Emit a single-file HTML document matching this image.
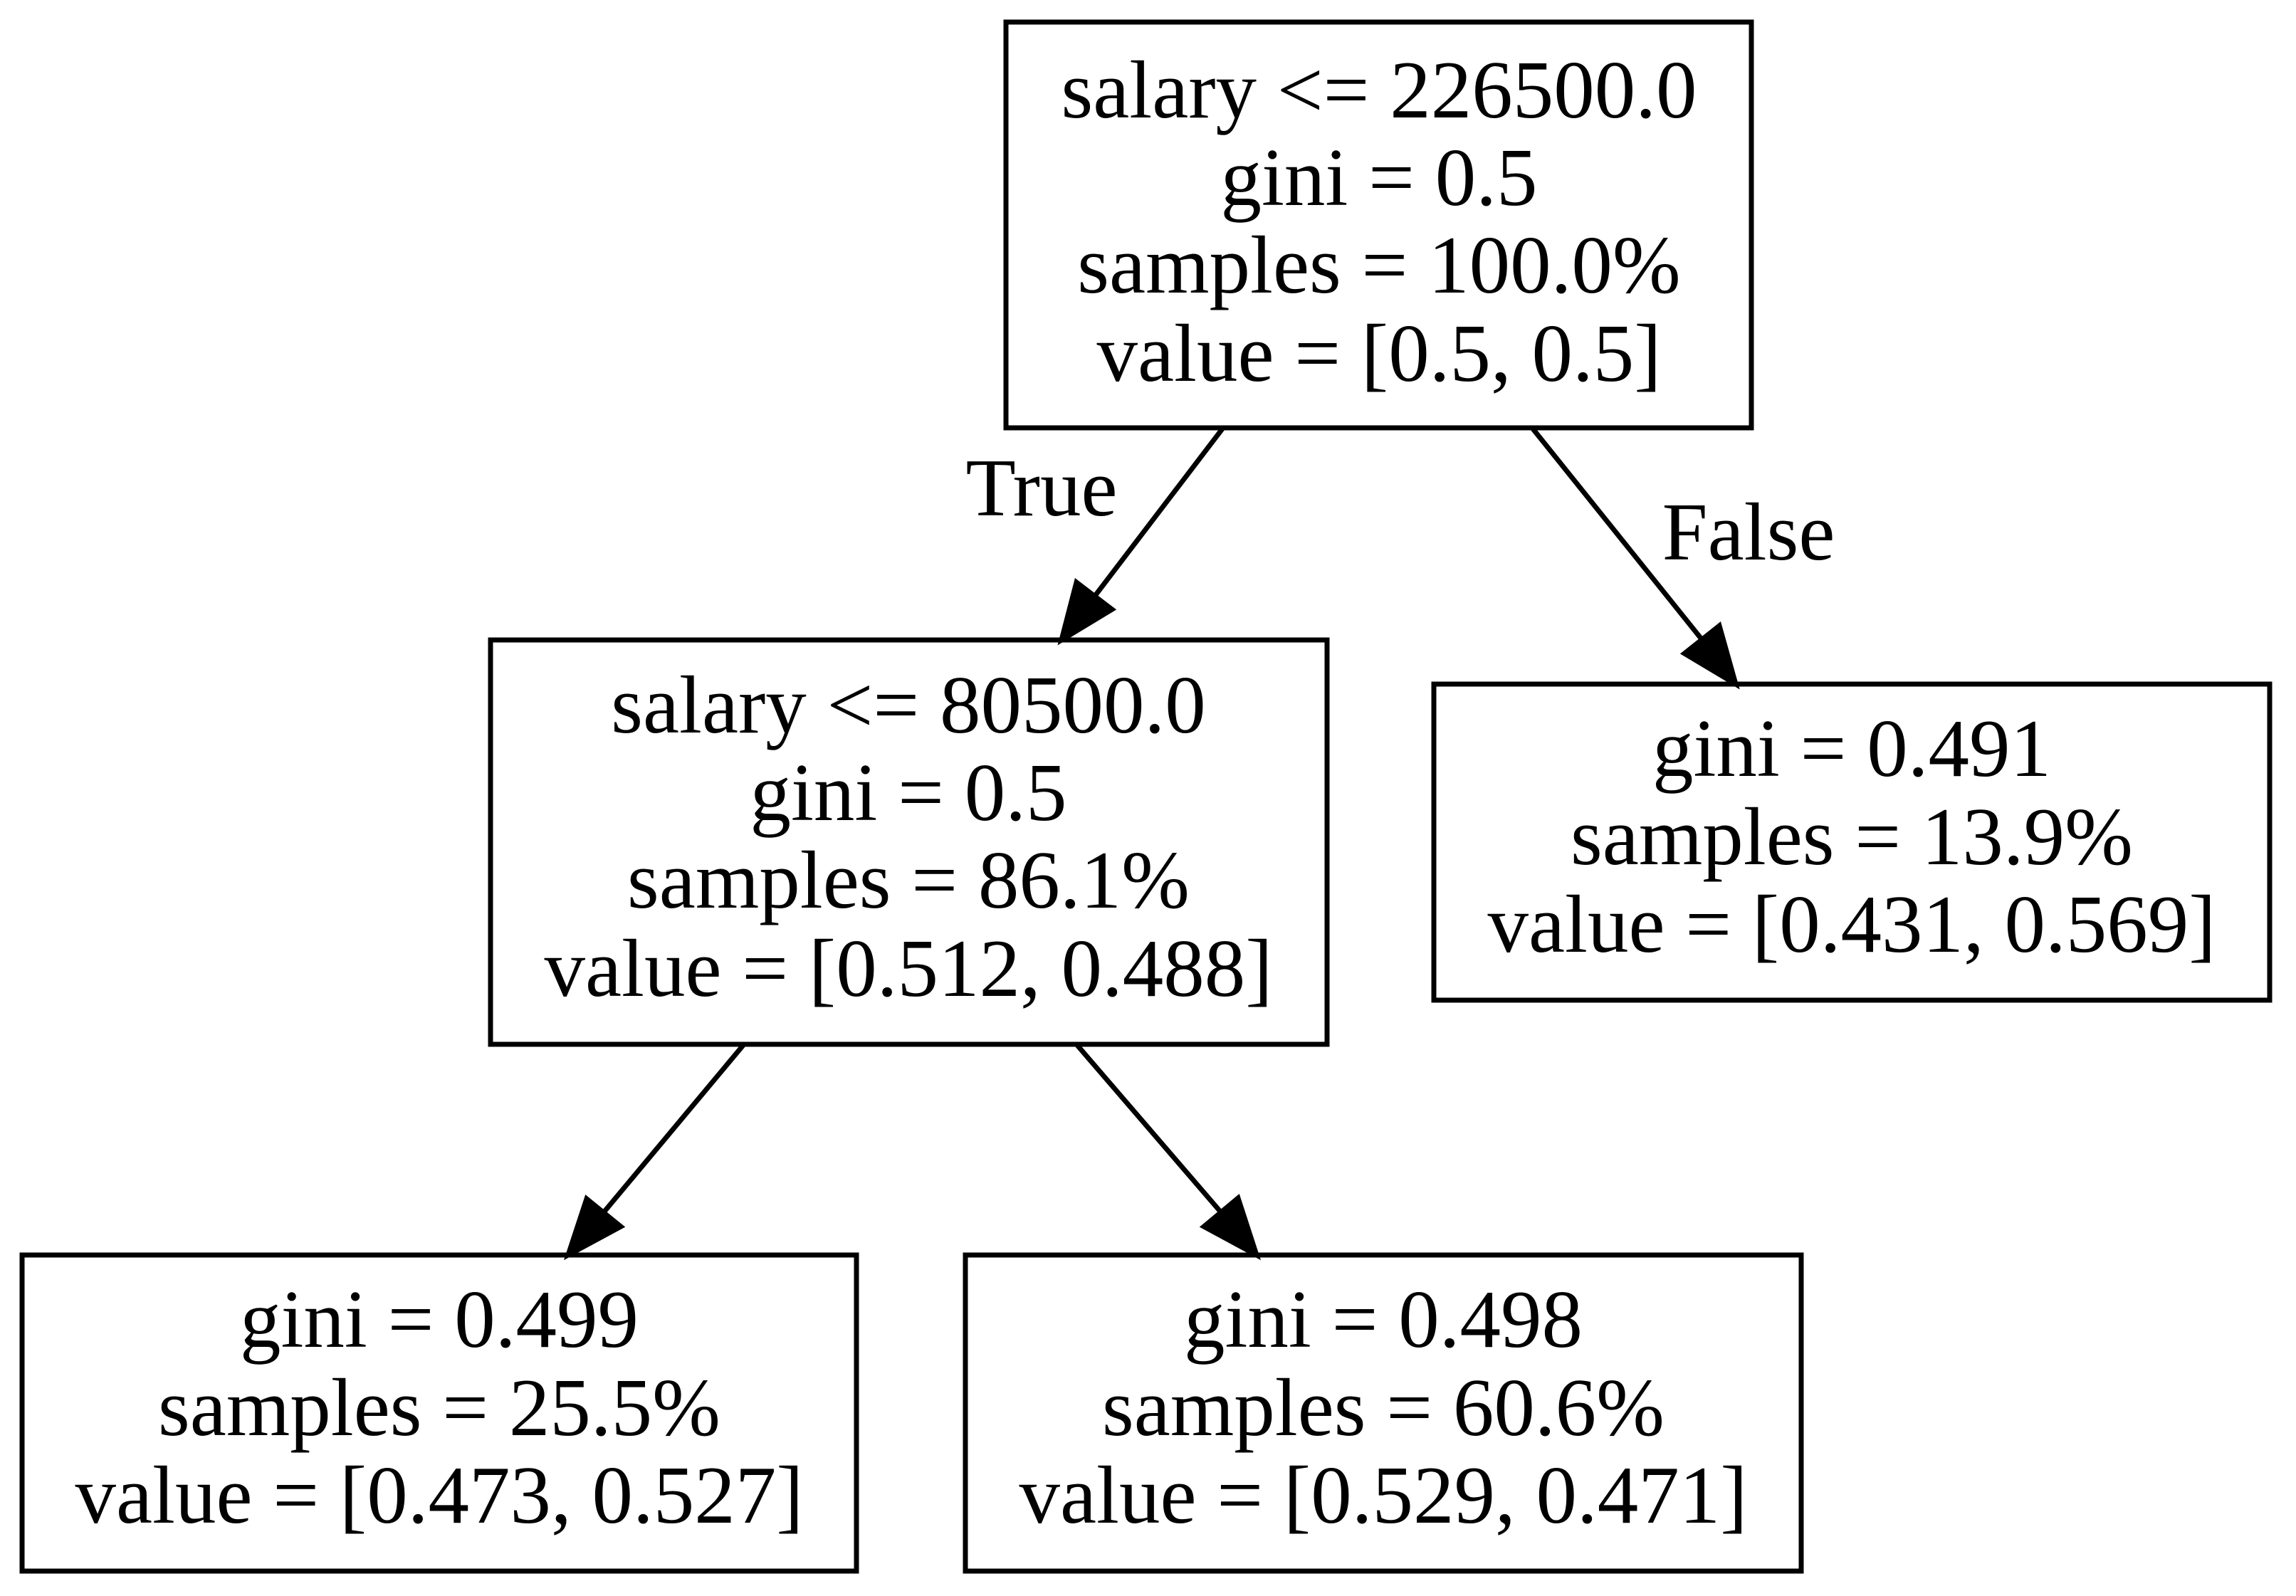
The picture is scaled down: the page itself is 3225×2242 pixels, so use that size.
<!DOCTYPE html>
<html>
<head>
<meta charset="utf-8">
<style>
  html, body { margin: 0; padding: 0; background: #fff; }
  svg { display: block; }
  text { font-family: "Liberation Serif", serif; font-size: 115px; fill: #000; text-anchor: middle; }
</style>
</head>
<body>
<svg width="3225" height="2242" viewBox="0 0 3225 2242" xmlns="http://www.w3.org/2000/svg">
  <rect x="0" y="0" width="3225" height="2242" fill="#fff"/>

  <g stroke="#000" stroke-width="7" fill="#000">
    <g>
      <line x1="1718" y1="601" x2="1538" y2="837"/>
      <polygon points="1491,899 1512,818 1562,856"/>
    </g>
    <g>
      <line x1="2152" y1="601" x2="2391" y2="899"/>
      <polygon points="2438,961 2366,918 2415,879"/>
    </g>
    <g>
      <line x1="1045" y1="1467" x2="848" y2="1703"/>
      <polygon points="798,1763 824,1684 872,1723"/>
    </g>
    <g>
      <line x1="1512" y1="1467" x2="1715" y2="1703"/>
      <polygon points="1765,1763 1691,1723 1739,1683"/>
    </g>
  </g>

  <text x="1463" y="724">True</text>
  <text x="2456" y="786">False</text>

  <g>
    <rect x="1413" y="31" width="1047" height="570" fill="none" stroke="#000" stroke-width="7"/>
    <text x="1937" y="165">salary &lt;= 226500.0</text>
    <text x="1937" y="288">gini = 0.5</text>
    <text x="1937" y="411">samples = 100.0%</text>
    <text x="1937" y="535">value = [0.5, 0.5]</text>
  </g>

  <g>
    <rect x="689" y="899" width="1175" height="568" fill="none" stroke="#000" stroke-width="7"/>
    <text x="1276" y="1029">salary &lt;= 80500.0</text>
    <text x="1276" y="1152">gini = 0.5</text>
    <text x="1276" y="1275">samples = 86.1%</text>
    <text x="1276" y="1399">value = [0.512, 0.488]</text>
  </g>

  <g>
    <rect x="2014" y="961" width="1174" height="444" fill="none" stroke="#000" stroke-width="7"/>
    <text x="2601" y="1090">gini = 0.491</text>
    <text x="2601" y="1214">samples = 13.9%</text>
    <text x="2601" y="1337">value = [0.431, 0.569]</text>
  </g>

  <g>
    <rect x="31" y="1763" width="1172" height="444" fill="none" stroke="#000" stroke-width="7"/>
    <text x="617" y="1892">gini = 0.499</text>
    <text x="617" y="2016">samples = 25.5%</text>
    <text x="617" y="2139">value = [0.473, 0.527]</text>
  </g>

  <g>
    <rect x="1356" y="1763" width="1174" height="444" fill="none" stroke="#000" stroke-width="7"/>
    <text x="1943" y="1892">gini = 0.498</text>
    <text x="1943" y="2016">samples = 60.6%</text>
    <text x="1943" y="2139">value = [0.529, 0.471]</text>
  </g>
</svg>
</body>
</html>
